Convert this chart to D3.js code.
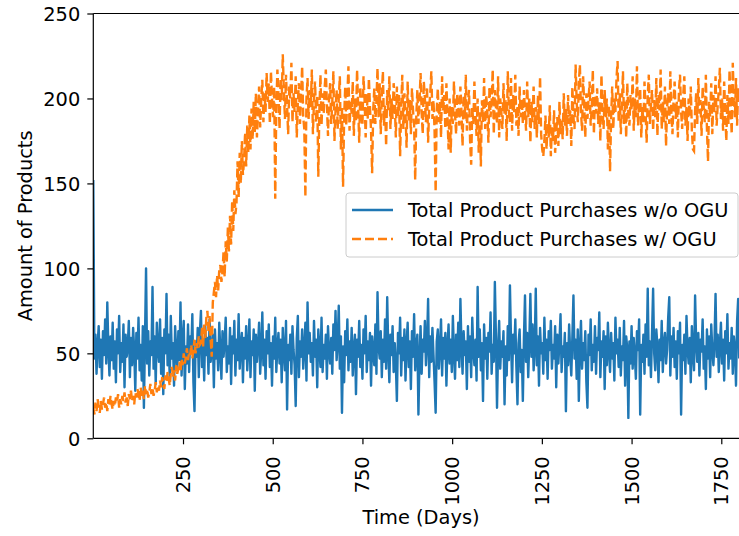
<!DOCTYPE html>
<html>
<head>
<meta charset="utf-8">
<script src="https://cdn.jsdelivr.net/npm/d3@7"></script>
<style>
  html, body { margin: 0; padding: 0; background: #ffffff; }
  svg { display: block; font-family: "DejaVu Sans", sans-serif; }
</style>
</head>
<body>
<svg id="chart" width="739" height="536"></svg>
<script>
// Simulation output, sampled every 3 days (day 0 .. day 1800)
const sampleStep = 3;

// Total product purchases without OGU
const purchasesWithoutOGU = [
  152, 47, 61, 38, 55, 66, 42, 58, 35, 63, 49, 70, 44, 80, 53, 37, 60, 46, 68, 41,
  57, 33, 64, 50, 72, 39, 56, 45, 67, 30, 61, 48, 54, 69, 36, 59, 43, 65, 52, 28,
  62, 47, 71, 40, 55, 34, 66, 18, 58, 100, 44, 63, 37, 57, 49, 89, 41, 60, 32, 68,
  53, 45, 70, 38, 59, 26, 64, 50, 85, 43, 61, 35, 72, 47, 56, 31, 66, 52, 40, 63,
  46, 80, 37, 58, 69, 29, 54, 44, 67, 39, 60, 51, 73, 33, 16, 57, 48, 65, 36, 62,
  75, 42, 55, 34, 66, 49, 59, 38, 70, 45, 53, 61, 30, 64, 47, 56, 40, 68, 51, 35,
  63, 48, 57, 71, 39, 54, 44, 65, 32, 60, 50, 69, 37, 58, 46, 73, 41, 55, 62, 33,
  59, 47, 66, 40, 53, 70, 36, 57, 49, 64, 28, 61, 45, 55, 68, 38, 52, 74, 43, 58,
  35, 63, 50, 67, 42, 56, 31, 60, 47, 71, 39, 54, 62, 44, 58, 33, 65, 51, 40, 69,
  17, 55, 46, 61, 38, 66, 52, 43, 19, 59, 72, 36, 57, 48, 64, 41, 53, 68, 34, 80,
  50, 62, 45, 56, 37, 69, 48, 58, 30, 64, 53, 42, 71, 39, 55, 47, 61, 35, 66, 51,
  44, 59, 38, 67, 52, 75, 46, 56, 78, 41, 60, 15, 54, 33, 63, 49, 70, 40, 57, 45,
  65, 37, 53, 61, 26, 58, 48, 69, 42, 55, 35, 64, 50, 72, 39, 57, 46, 62, 31, 60,
  51, 43, 67, 38, 86, 54, 47, 63, 36, 58, 45, 70, 41, 83, 52, 33, 61, 49, 66, 39,
  56, 44, 22, 62, 50, 71, 37, 59, 46, 64, 34, 55, 68, 42, 57, 29, 63, 48, 73, 40,
  54, 61, 14, 47, 66, 38, 58, 51, 69, 43, 56, 82, 36, 60, 45, 65, 49, 33, 15, 57,
  64, 41, 53, 70, 37, 59, 47, 62, 31, 55, 67, 44, 58, 39, 72, 50, 35, 61, 46, 68,
  42, 82, 54, 38, 63, 49, 57, 29, 66, 45, 60, 36, 71, 52, 43, 58, 34, 89, 48, 64,
  40, 56, 22, 67, 47, 59, 35, 62, 51, 74, 38, 55, 45, 92, 60, 18, 53, 69, 41, 57,
  48, 63, 20, 54, 37, 66, 46, 90, 58, 33, 61, 50, 70, 42, 20, 56, 64, 39, 52, 22,
  59, 84, 45, 62, 36, 57, 85, 48, 67, 40, 53, 88, 43, 60, 31, 65, 50, 56, 38, 71,
  46, 58, 35, 63, 52, 69, 41, 55, 47, 66, 30, 61, 44, 57, 73, 39, 54, 48, 62, 16,
  56, 43, 67, 50, 37, 60, 84, 47, 58, 35, 64, 22, 53, 69, 41, 56, 46, 63, 33, 18,
  61, 49, 70, 40, 55, 45, 66, 38, 59, 52, 74, 36, 57, 48, 63, 29, 60, 43, 68, 51,
  39, 62, 47, 56, 34, 71, 50, 58, 42, 65, 37, 54, 46, 69, 31, 60, 53, 12, 57, 44,
  66, 41, 59, 49, 35, 63, 52, 70, 14, 55, 45, 61, 38, 67, 48, 88, 43, 57, 36, 62,
  88, 50, 40, 64, 54, 33, 58, 46, 69, 39, 56, 62, 44, 52, 71, 83, 37, 60, 48, 65,
  42, 57, 35, 63, 50, 68, 14, 55, 46, 61, 38, 72, 53, 44, 59, 33, 66, 49, 40, 84,
  56, 45, 62, 37, 58, 51, 70, 41, 54, 29, 64, 47, 60, 36, 67, 52, 43, 57, 85, 48,
  61, 39, 55, 68, 44, 58, 34, 63, 50, 73, 41, 56, 47, 65, 38, 60, 53, 31, 69, 82,
  47
];

// Total product purchases with OGU
const purchasesWithOGU = [
  18, 14, 21, 16, 23, 19, 15, 22, 17, 20, 24, 18, 21, 16, 23, 19, 25, 20, 17, 22,
  19, 24, 21, 26, 18, 23, 20, 25, 22, 27, 21, 24, 19, 26, 23, 28, 22, 25, 20, 27,
  24, 29, 26, 22, 30, 25, 28, 23, 31, 26, 29, 24, 27, 32, 26, 30, 25, 28, 33, 27,
  31, 28, 34, 30, 36, 32, 29, 37, 33, 39, 35, 31, 38, 42, 36, 40, 34, 43, 38, 41,
  45, 39, 47, 43, 50, 44, 48, 53, 46, 51, 49, 55, 47, 52, 58, 50, 56, 53, 60, 55,
  56, 65, 54, 68, 59, 71, 75, 62, 72, 58, 48, 80, 86, 92, 83, 96, 87, 99, 102, 92,
  98, 110, 95, 116, 104, 124, 110, 131, 114, 140, 122, 146, 132, 138, 163, 142, 168, 150, 175, 155,
  163, 180, 160, 184, 168, 190, 170, 194, 176, 198, 180, 203, 177, 192, 207, 183, 199, 211, 186, 203,
  192, 215, 198, 209, 185, 216, 200, 189, 207, 141, 195, 217, 202, 182, 212, 199, 226, 205, 188, 214,
  196, 179, 207, 200, 221, 186, 203, 192, 213, 177, 198, 209, 185, 202, 219, 189, 182, 142, 200, 212,
  188, 205, 195, 217, 179, 199, 210, 186, 202, 154, 193, 214, 184, 203, 191, 207, 217, 196, 178, 200,
  209, 185, 198, 216, 175, 193, 205, 182, 200, 213, 170, 195, 148, 189, 207, 184, 202, 219, 181, 198,
  191, 210, 178, 200, 186, 217, 196, 174, 207, 192, 184, 213, 199, 177, 203, 188, 212, 195, 181, 156,
  193, 206, 185, 199, 218, 189, 209, 179, 202, 216, 184, 196, 172, 205, 192, 213, 182, 200, 188, 209,
  198, 177, 207, 189, 202, 166, 195, 214, 182, 203, 191, 171, 210, 186, 199, 179, 206, 193, 184, 152,
  189, 205, 185, 198, 215, 192, 179, 210, 200, 186, 207, 174, 195, 203, 216, 188, 199, 181, 145, 193,
  206, 186, 198, 177, 213, 193, 202, 182, 209, 189, 170, 200, 168, 195, 185, 210, 191, 179, 203, 196,
  184, 207, 192, 172, 202, 188, 214, 181, 198, 205, 175, 161, 195, 185, 210, 191, 178, 200, 168, 193,
  160, 199, 186, 212, 182, 202, 192, 174, 207, 189, 198, 217, 179, 205, 195, 185, 213, 177, 200, 192,
  182, 209, 191, 199, 175, 216, 193, 186, 212, 181, 202, 192, 214, 184, 196, 178, 207, 189, 200, 185,
  205, 193, 181, 210, 189, 200, 174, 198, 186, 207, 182, 195, 177, 202, 185, 213, 179, 170, 166, 175,
  190, 170, 186, 177, 196, 166, 183, 175, 193, 168, 180, 189, 172, 198, 179, 187, 176, 203, 184, 194,
  178, 202, 185, 193, 172, 207, 189, 182, 220, 198, 186, 209, 220, 192, 181, 213, 196, 177, 203, 188,
  199, 210, 184, 195, 217, 179, 202, 191, 206, 185, 198, 175, 214, 193, 182, 205, 189, 200, 170, 196,
  157, 189, 207, 182, 200, 192, 212, 222, 186, 203, 179, 196, 216, 185, 199, 177, 209, 191, 184, 202,
  193, 213, 181, 200, 189, 219, 184, 198, 206, 177, 195, 186, 210, 192, 174, 202, 214, 185, 196, 205,
  181, 199, 189, 212, 178, 202, 193, 217, 182, 198, 186, 207, 172, 195, 203, 185, 216, 191, 179, 200,
  210, 188, 198, 177, 205, 214, 192, 182, 202, 213, 184, 195, 175, 200, 189, 207, 181, 170, 169, 193,
  203, 185, 212, 191, 199, 178, 207, 195, 186, 214, 182, 163, 198, 189, 209, 179, 202, 192, 213, 184,
  196, 205, 218, 188, 200, 181, 210, 192, 175, 202, 185, 217, 195, 179, 221, 199, 189, 212, 184, 206,
  198
];

const seriesNames = ["Total Product Purchases w/o OGU", "Total Product Purchases w/ OGU"];
const seriesColors = ["#1f77b4", "#ff7f0e"];
const xTickValues = [250, 500, 750, 1000, 1250, 1500, 1750];
const yTickValues = [0, 50, 100, 150, 200, 250];

const FONT = 19.4;
const svg = d3.select("#chart");
const plot = { left: 93.3, right: 750, top: 13.5, bottom: 438.3 };

const x = d3.scaleLinear().domain([0, 1830]).range([plot.left, plot.right]);
const y = d3.scaleLinear().domain([0, 250]).range([plot.bottom, plot.top]);

svg.append("defs").append("clipPath").attr("id", "plot-clip")
  .append("rect")
  .attr("x", plot.left).attr("y", plot.top)
  .attr("width", plot.right - plot.left).attr("height", plot.bottom - plot.top);

const toPoints = vals => vals.map((v, i) => [i * sampleStep, v]);
const line = d3.line().x(d => x(d[0])).y(d => y(d[1]));

const lines = svg.append("g").attr("clip-path", "url(#plot-clip)");
lines.append("path")
  .datum(toPoints(purchasesWithoutOGU))
  .attr("d", line)
  .attr("fill", "none")
  .attr("stroke", seriesColors[0])
  .attr("stroke-width", 2.4)
  .attr("stroke-linejoin", "round");

lines.append("path")
  .datum(toPoints(purchasesWithOGU))
  .attr("d", line)
  .attr("fill", "none")
  .attr("stroke", seriesColors[1])
  .attr("stroke-width", 2.4)
  .attr("stroke-dasharray", "9,4");

// Axes
const xAxis = d3.axisBottom(x).tickValues(xTickValues).tickFormat(d3.format("d"))
  .tickSize(6).tickSizeOuter(0);
const gx = svg.append("g").attr("transform", `translate(0,${plot.bottom})`).call(xAxis);
gx.select(".domain").remove();
gx.selectAll(".tick line").attr("stroke", "#000").attr("stroke-width", 1.2);
gx.selectAll(".tick text")
  .attr("font-size", FONT)
  .attr("fill", "#000")
  .attr("font-family", "DejaVu Sans, sans-serif")
  .attr("text-anchor", "end")
  .attr("dy", null)
  .attr("y", 0)
  .attr("dominant-baseline", "central")
  .attr("transform", "translate(0,18) rotate(-90)");

const yAxis = d3.axisLeft(y).tickValues(yTickValues).tickFormat(d3.format("d"))
  .tickSize(6).tickSizeOuter(0);
const gy = svg.append("g").attr("transform", `translate(${plot.left},0)`).call(yAxis);
gy.select(".domain").remove();
gy.selectAll(".tick line").attr("stroke", "#000").attr("stroke-width", 1.2);
gy.selectAll(".tick text")
  .attr("font-size", FONT)
  .attr("fill", "#000")
  .attr("font-family", "DejaVu Sans, sans-serif")
  .attr("x", -13)
  .attr("dy", "0.36em");

// Spines: left, bottom and top
const spines = svg.append("g").attr("stroke", "#000").attr("stroke-width", 1.2);
spines.append("line").attr("x1", plot.left).attr("x2", plot.left).attr("y1", plot.top).attr("y2", plot.bottom);
spines.append("line").attr("x1", plot.left).attr("x2", plot.right).attr("y1", plot.bottom).attr("y2", plot.bottom);
spines.append("line").attr("x1", plot.left).attr("x2", plot.right).attr("y1", plot.top).attr("y2", plot.top);

// Axis titles
svg.append("text")
  .attr("x", 421).attr("y", 524)
  .attr("text-anchor", "middle")
  .attr("font-size", FONT)
  .text("Time (Days)");

svg.append("text")
  .attr("transform", `translate(25,${(plot.top + plot.bottom) / 2}) rotate(-90)`)
  .attr("text-anchor", "middle")
  .attr("dy", "0.36em")
  .attr("font-size", FONT)
  .text("Amount of Products");

// Legend
const legend = svg.append("g");
legend.append("rect")
  .attr("x", 346).attr("y", 193).attr("width", 392).attr("height", 64)
  .attr("rx", 3)
  .attr("fill", "#ffffff").attr("fill-opacity", 0.8)
  .attr("stroke", "#cccccc").attr("stroke-width", 1);

seriesNames.forEach((name, i) => {
  const ly = 210 + i * 29;
  legend.append("line")
    .attr("x1", 352).attr("x2", 393).attr("y1", ly).attr("y2", ly)
    .attr("stroke", seriesColors[i]).attr("stroke-width", 2.4)
    .attr("stroke-dasharray", i === 1 ? "9,4" : null);
  legend.append("text")
    .attr("x", 408).attr("y", ly)
    .attr("dy", "0.36em")
    .attr("font-size", FONT)
    .text(name);
});
</script>
</body>
</html>
